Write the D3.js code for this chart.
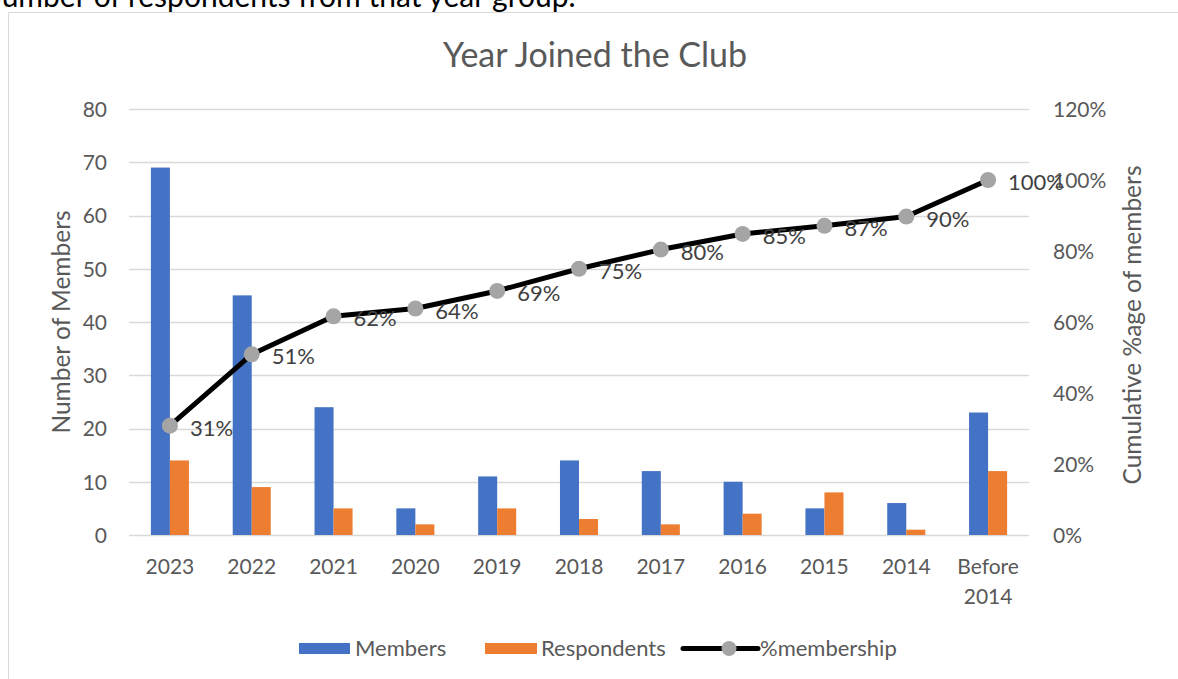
<!DOCTYPE html>
<html>
<head>
<meta charset="utf-8">
<script src="https://cdn.jsdelivr.net/npm/d3@7"></script>
<style>
  body { margin: 0; background: #fff; overflow: hidden; }
  svg text { font-family: Lato, "Open Sans", sans-serif; }
</style>
</head>
<body>
<script>
// data
var years = ["2023", "2022", "2021", "2020", "2019", "2018", "2017", "2016", "2015", "2014", "Before 2014"];
var members = [69, 45, 24, 5, 11, 14, 12, 10, 5, 6, 23];
var respondents = [14, 9, 5, 2, 5, 3, 2, 4, 8, 1, 12];
var cumulative = [0.308, 0.509, 0.616, 0.638, 0.6875, 0.75, 0.804, 0.848, 0.871, 0.897, 1.0];
var leftTicks = [0, 10, 20, 30, 40, 50, 60, 70, 80];
var rightTicks = [0, 0.2, 0.4, 0.6, 0.8, 1.0, 1.2];

var width = 1178, height = 679;
var blue = "#4472c4", orange = "#ed7d31", grey = "#a5a5a5";
var textCol = "#595959";

var svg = d3.select("body").append("svg")
  .attr("width", width)
  .attr("height", height);

// sentence above the chart, cut off by the page top
svg.append("text")
  .attr("x", -21).attr("y", 7)
  .style("font-size", "30px")
  .style("fill", "#000")
  .text("Number of respondents from that year group.");

// chart frame
svg.append("path")
  .attr("d", "M8.5," + height + "V12.5H" + width)
  .style("fill", "none")
  .style("stroke", "#d9d9d9")
  .style("stroke-width", 1);

var plot = { left: 129, right: 1029, top: 109, bottom: 535 };

var x = d3.scaleBand().domain(years).range([plot.left, plot.right]).paddingInner(0.535).paddingOuter(0.2675);
var inner = d3.scaleBand().domain(["m", "r"]).range([0, x.bandwidth()]);
var yL = d3.scaleLinear().domain([0, 80]).range([plot.bottom, plot.top]);
var yR = d3.scaleLinear().domain([0, 1.2]).range([plot.bottom, plot.top]);

// gridlines
svg.append("g").selectAll("line")
  .data(leftTicks)
  .enter().append("line")
  .attr("x1", plot.left).attr("x2", plot.right)
  .attr("y1", function(d) { return Math.round(yL(d)) + 0.5; })
  .attr("y2", function(d) { return Math.round(yL(d)) + 0.5; })
  .style("stroke", "#d9d9d9")
  .style("stroke-width", 1.3);

// left axis
var axL = svg.append("g").attr("transform", "translate(107,0)")
  .call(d3.axisLeft(yL).tickValues(leftTicks).tickSize(0).tickPadding(0));
axL.select(".domain").remove();
axL.selectAll("text").style("font-size", "21px").style("fill", textCol).attr("dy", "0.35em");

// right axis
var axR = svg.append("g").attr("transform", "translate(1053,0)")
  .call(d3.axisRight(yR).tickValues(rightTicks).tickSize(0).tickPadding(0).tickFormat(d3.format(".0%")));
axR.select(".domain").remove();
axR.selectAll("text").style("font-size", "21px").style("fill", textCol).attr("dy", "0.35em");

// x labels
var xl = svg.append("g").selectAll("text")
  .data(years)
  .enter().append("text")
  .attr("x", function(d) { return x(d) + x.bandwidth() / 2; })
  .attr("y", 574)
  .attr("text-anchor", "middle")
  .style("font-size", "21px")
  .style("fill", textCol);
xl.each(function(d) {
  var parts = d === "Before 2014" ? ["Before", "2014"] : [d];
  var t = d3.select(this);
  parts.forEach(function(p, i) {
    t.append("tspan").attr("x", x(d) + x.bandwidth() / 2).attr("dy", i ? 30 : 0).text(p);
  });
});

// bars
svg.append("g").selectAll("rect")
  .data(members)
  .enter().append("rect")
  .attr("x", function(d, i) { return x(years[i]) + inner("m"); })
  .attr("y", function(d) { return yL(d); })
  .attr("width", inner.bandwidth())
  .attr("height", function(d) { return yL(0) - yL(d); })
  .style("fill", blue);

svg.append("g").selectAll("rect")
  .data(respondents)
  .enter().append("rect")
  .attr("x", function(d, i) { return x(years[i]) + inner("r"); })
  .attr("y", function(d) { return yL(d); })
  .attr("width", inner.bandwidth())
  .attr("height", function(d) { return yL(0) - yL(d); })
  .style("fill", orange);

// cumulative line
var line = d3.line()
  .x(function(d, i) { return x(years[i]) + x.bandwidth() / 2; })
  .y(function(d) { return yR(d); });

svg.append("path")
  .datum(cumulative)
  .attr("d", line)
  .style("fill", "none")
  .style("stroke", "#000")
  .style("stroke-width", 5)
  .style("stroke-linejoin", "round");

svg.append("g").selectAll("circle")
  .data(cumulative)
  .enter().append("circle")
  .attr("cx", function(d, i) { return x(years[i]) + x.bandwidth() / 2; })
  .attr("cy", function(d) { return yR(d); })
  .attr("r", 8)
  .style("fill", grey);

svg.append("g").selectAll("text")
  .data(cumulative)
  .enter().append("text")
  .attr("x", function(d, i) { return x(years[i]) + x.bandwidth() / 2 + 20; })
  .attr("y", function(d) { return yR(d) + 10; })
  .style("font-size", "22px")
  .style("fill", "#404040")
  .text(function(d) { return Math.round(d * 100) + "%"; });

// title and axis titles
svg.append("text")
  .attr("x", 595).attr("y", 67)
  .attr("text-anchor", "middle")
  .style("font-size", "34px")
  .style("fill", textCol)
  .text("Year Joined the Club");

svg.append("text")
  .attr("transform", "translate(70,322) rotate(-90)")
  .attr("text-anchor", "middle")
  .style("font-size", "24.5px")
  .style("fill", textCol)
  .text("Number of Members");

svg.append("text")
  .attr("transform", "translate(1141,325) rotate(-90)")
  .attr("text-anchor", "middle")
  .style("font-size", "24.5px")
  .style("fill", textCol)
  .text("Cumulative %age of members");

// legend
var lg = svg.append("g");
lg.append("rect").attr("x", 299).attr("y", 643).attr("width", 51).attr("height", 11).style("fill", blue);
lg.append("text").attr("x", 355).attr("y", 656).style("font-size", "22px").style("fill", textCol).text("Members");
lg.append("rect").attr("x", 485).attr("y", 643).attr("width", 52).attr("height", 11).style("fill", orange);
lg.append("text").attr("x", 541).attr("y", 656).style("font-size", "22px").style("fill", textCol).text("Respondents");
lg.append("line").attr("x1", 683).attr("x2", 758).attr("y1", 648.5).attr("y2", 648.5)
  .style("stroke", "#000").style("stroke-width", 5).style("stroke-linecap", "round");
lg.append("circle").attr("cx", 729).attr("cy", 648.5).attr("r", 7.5).style("fill", grey);
lg.append("text").attr("x", 760).attr("y", 656).style("font-size", "22px").style("fill", textCol).text("%membership");
</script>
</body>
</html>
